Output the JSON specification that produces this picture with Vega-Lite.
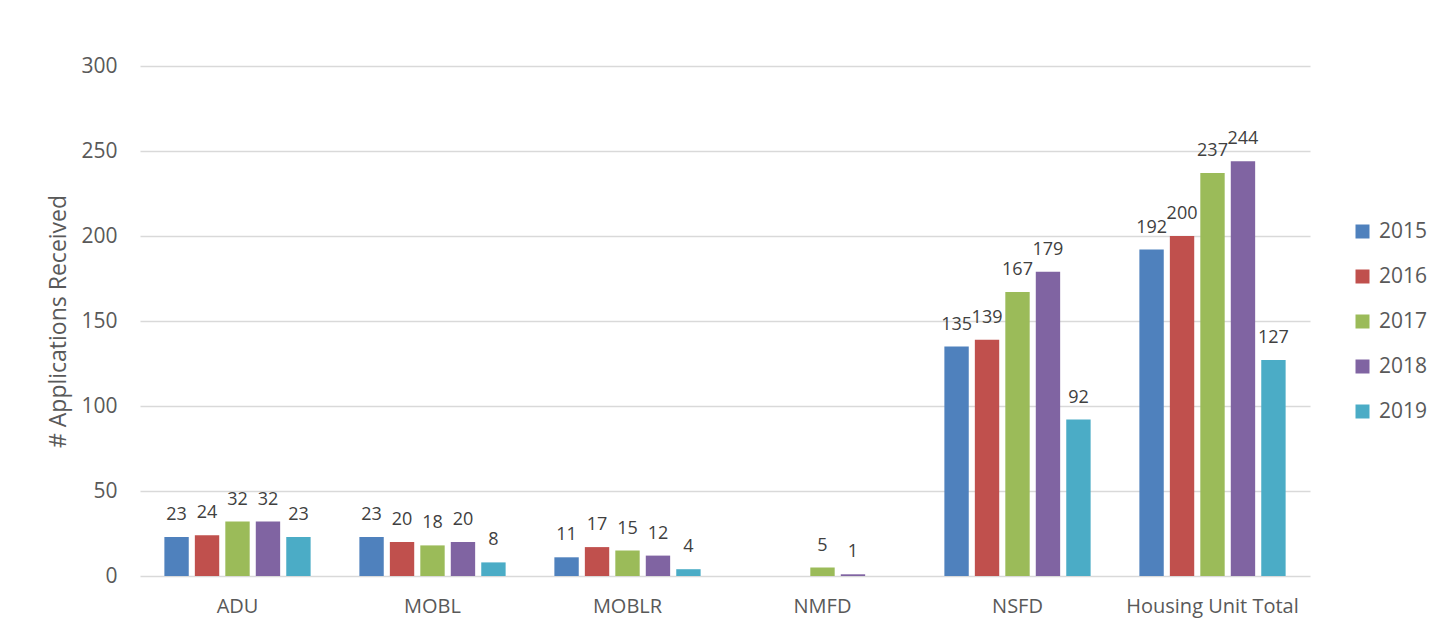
{
  "$schema": "https://vega.github.io/schema/vega-lite/v6.json",
  "width": 1170,
  "height": 510,
  "autosize": {"type": "none"},
  "padding": {"left": 140, "top": 66, "right": 140, "bottom": 61},
  "background": "white",
  "config": {"view": {"stroke": null}, "font": "Open Sans"},
  "data": {
    "values": [
      {"category": "ADU", "year": "2015", "value": 23},
      {"category": "ADU", "year": "2016", "value": 24},
      {"category": "ADU", "year": "2017", "value": 32},
      {"category": "ADU", "year": "2018", "value": 32},
      {"category": "ADU", "year": "2019", "value": 23},
      {"category": "MOBL", "year": "2015", "value": 23},
      {"category": "MOBL", "year": "2016", "value": 20},
      {"category": "MOBL", "year": "2017", "value": 18},
      {"category": "MOBL", "year": "2018", "value": 20},
      {"category": "MOBL", "year": "2019", "value": 8},
      {"category": "MOBLR", "year": "2015", "value": 11},
      {"category": "MOBLR", "year": "2016", "value": 17},
      {"category": "MOBLR", "year": "2017", "value": 15},
      {"category": "MOBLR", "year": "2018", "value": 12},
      {"category": "MOBLR", "year": "2019", "value": 4},
      {"category": "NMFD", "year": "2017", "value": 5},
      {"category": "NMFD", "year": "2018", "value": 1},
      {"category": "NSFD", "year": "2015", "value": 135},
      {"category": "NSFD", "year": "2016", "value": 139},
      {"category": "NSFD", "year": "2017", "value": 167},
      {"category": "NSFD", "year": "2018", "value": 179},
      {"category": "NSFD", "year": "2019", "value": 92},
      {"category": "Housing Unit Total", "year": "2015", "value": 192},
      {"category": "Housing Unit Total", "year": "2016", "value": 200},
      {"category": "Housing Unit Total", "year": "2017", "value": 237},
      {"category": "Housing Unit Total", "year": "2018", "value": 244},
      {"category": "Housing Unit Total", "year": "2019", "value": 127}
    ]
  },
  "encoding": {
    "x": {
      "field": "category",
      "type": "nominal",
      "sort": ["ADU", "MOBL", "MOBLR", "NMFD", "NSFD", "Housing Unit Total"],
      "scale": {"paddingInner": 0.25, "paddingOuter": 0.125},
      "axis": {
        "title": null,
        "labelAngle": 0,
        "labelFontSize": 20,
        "labelColor": "#595959",
        "labelPadding": 20,
        "ticks": false,
        "domain": false
      }
    },
    "xOffset": {
      "field": "year",
      "type": "nominal",
      "scale": {"paddingInner": 0.2}
    },
    "y": {
      "field": "value",
      "type": "quantitative",
      "scale": {"domain": [0, 300]},
      "axis": {
        "title": "# Applications Received",
        "titleFontSize": 23,
        "titleFontWeight": "normal",
        "titleColor": "#595959",
        "titlePadding": 10,
        "values": [0, 50, 100, 150, 200, 250, 300],
        "labelFontSize": 21,
        "labelColor": "#595959",
        "labelPadding": 23,
        "ticks": false,
        "domain": false,
        "gridColor": "#D9D9D9",
        "gridWidth": 1.5
      }
    }
  },
  "layer": [
    {
      "mark": {"type": "bar"},
      "encoding": {
        "color": {
          "field": "year",
          "type": "nominal",
          "scale": {"range": ["#4F81BD", "#C0504D", "#9BBB59", "#8064A2", "#4BACC6"]},
          "legend": {
            "title": null,
            "orient": "none",
            "legendX": 1212,
            "legendY": 155,
            "symbolType": "square",
            "symbolSize": 196,
            "symbolStrokeWidth": 0,
            "labelFontSize": 21,
            "labelColor": "#595959",
            "labelOffset": 6,
            "rowPadding": 23
          }
        }
      }
    },
    {
      "mark": {
        "type": "text",
        "baseline": "alphabetic",
        "dy": -17,
        "fontSize": 18,
        "fill": "#404040"
      },
      "encoding": {"text": {"field": "value", "type": "quantitative"}}
    }
  ]
}
